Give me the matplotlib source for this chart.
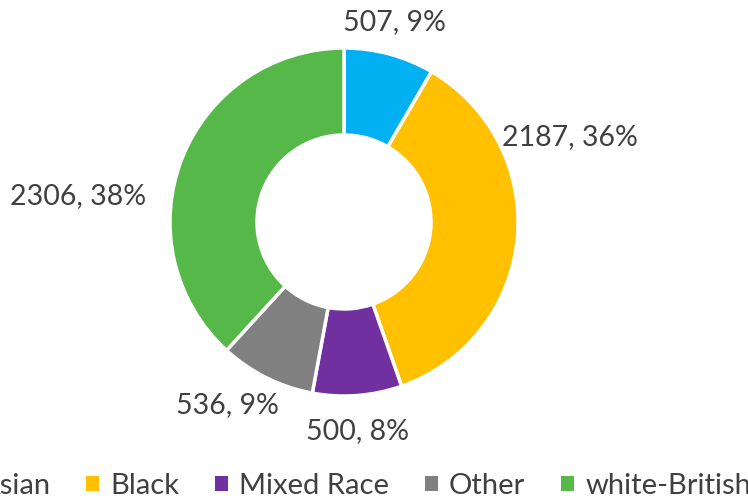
import matplotlib.pyplot as plt
from matplotlib.patches import Patch

categories = ['Asian', 'Black', 'Mixed Race', 'Other', 'white-British']
counts = [507, 2187, 500, 536, 2306]
pct_labels = ['9%', '36%', '8%', '9%', '38%']
colors = ['#00B0F0', '#FFC000', '#7030A0', '#808080', '#55B848']

# label anchor points (axis units, radius = 1)
label_pos = [(0.29, 1.15), (1.30, 0.49), (0.08, -1.20), (-0.67, -1.05), (-1.53, 0.15)]

plt.rcParams['font.family'] = ['Lato', 'DejaVu Sans']
text_color = '#404040'

fig = plt.figure(figsize=(7.48, 4.99), dpi=100)
ax = fig.add_axes([0, 0, 1, 1])

ax.pie(counts, colors=colors, startangle=90, counterclock=False, radius=1.0,
       wedgeprops=dict(width=0.5, edgecolor='white', linewidth=2.5))
ax.set_aspect('auto')
ax.set_xlim(-344 / 174, (748 - 344) / 174)
ax.set_ylim(-277 / 174, 222 / 174)
ax.axis('off')

for n, p, (x, y) in zip(counts, pct_labels, label_pos):
    ax.text(x, y, f'{n}, {p}', ha='center', va='center', fontsize=20.5, color=text_color)

handles = [Patch(facecolor=c, edgecolor='none') for c in colors]
fig.legend(handles, categories, loc='center right', bbox_to_anchor=(751 / 748, 0.026), ncol=5,
           frameon=False, fontsize=21, labelcolor=text_color, borderpad=0, borderaxespad=0,
           handlelength=0.45, handleheight=0.45, handletextpad=0.38, columnspacing=1.22)

fig.savefig('out.png', dpi=100)
